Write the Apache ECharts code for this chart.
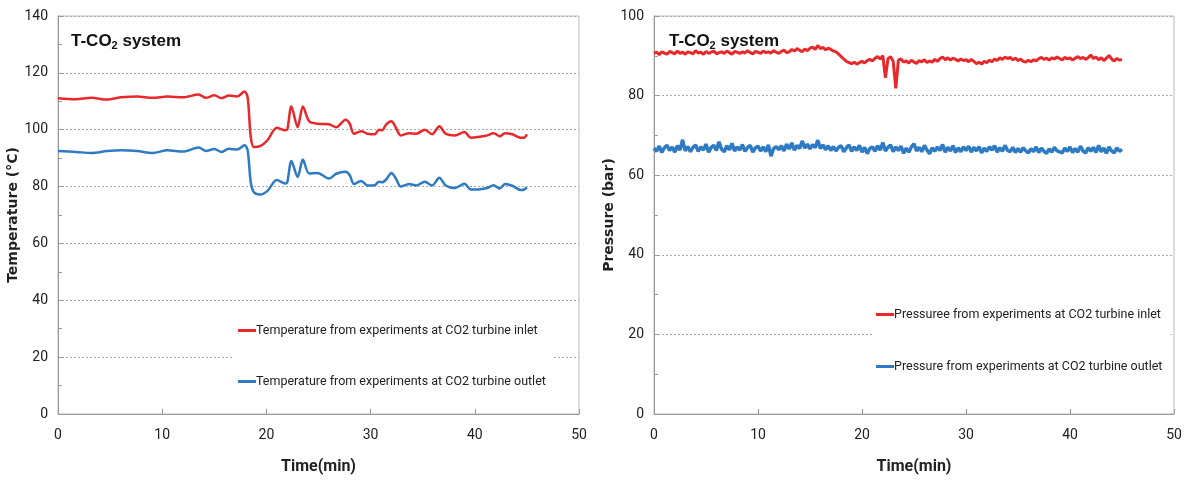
<!DOCTYPE html>
<html>
<head>
<meta charset="utf-8">
<script src="https://cdn.jsdelivr.net/npm/echarts@6/dist/echarts.min.js"></script>
<style>
  html, body { margin: 0; padding: 0; background: #fff; }
  #chart { width: 1187px; height: 480px; }
</style>
</head>
<body>
<div id="chart"></div>
<script>
// temperature readings (min, °C)
const tempTime = [0, 1.7, 3.2, 4.7, 6.1, 7.6, 9.1, 10.5, 12.0, 13.5, 14.2, 15.0, 15.7, 16.4, 17.2, 17.9, 18.2, 18.5, 18.8, 19.4,
  20.1, 21.0, 21.8, 22.0, 22.4, 23.0, 23.5, 24.1, 24.9, 26.0, 26.7, 27.6, 28.0, 28.4, 29.1, 29.7, 30.4, 30.8, 31.1, 31.5,
  32.0, 32.4, 32.9, 33.7, 34.4, 35.2, 35.9, 36.6, 37.2, 38.1, 39.0, 39.6, 40.3, 41.2, 41.8, 42.4, 42.9, 43.6, 44.4, 44.7, 45.0];
const tempInlet = [111.1, 110.7, 111.2, 110.6, 111.4, 111.7, 111.2, 111.7, 111.4, 112.4, 111.2, 112.1, 111.1, 112.0, 111.7, 113.4, 111.4, 97.4, 93.9, 94.2,
  96.3, 100.7, 99.8, 100.0, 108.2, 100.9, 108.2, 103.0, 102.1, 101.9, 100.9, 103.5, 102.1, 98.6, 99.5, 98.6, 98.4, 100.0, 99.8, 101.9,
  103.0, 100.9, 98.0, 98.8, 98.6, 100.0, 98.4, 101.2, 98.6, 98.0, 99.2, 97.2, 97.4, 98.0, 98.8, 97.7, 98.8, 98.4, 97.2, 97.2, 98.4];
const tempOutlet = [92.5, 92.2, 91.8, 92.5, 92.8, 92.5, 91.8, 92.8, 92.3, 93.7, 92.5, 93.2, 92.2, 93.3, 93.0, 94.5, 92.8, 81.5, 78.0, 77.2,
  78.5, 82.3, 81.1, 81.5, 89.0, 83.4, 89.5, 84.6, 84.8, 82.8, 84.5, 85.2, 84.0, 80.9, 82.0, 80.4, 80.5, 81.7, 81.5, 82.5,
  84.8, 83.0, 80.0, 80.9, 80.4, 81.7, 80.4, 83.1, 80.4, 79.5, 81.0, 79.0, 79.0, 79.5, 80.5, 79.3, 80.9, 80.3, 78.8, 78.9, 79.7];

// pressure readings, one every 0.25 min from 0 to 45 (bar)
const pressStep = 0.25;
const pressInlet = [
  90.6, 90.9, 90.3, 91.0, 90.7, 90.4, 91.1, 90.8, 90.5, 91.2,
  90.6, 90.9, 90.4, 91.0, 90.8, 90.5, 91.3, 90.7, 90.9, 90.4,
  91.1, 90.6, 90.9, 91.2, 90.5, 90.8, 91.0, 90.6, 91.2, 90.8,
  90.4, 91.1, 90.9, 90.6, 91.0, 90.7, 91.3, 90.8, 90.5, 91.1,
  90.9, 90.6, 91.2, 90.8, 91.0, 90.7, 91.3, 90.9, 90.6, 91.1,
  91.4, 90.8, 91.0,
  91.6, 91.2, 91.8, 91.4, 91.0, 91.7, 91.3, 91.9, 92.2, 91.6, 92.6, 91.8, 92.1, 91.5, 91.9, 91.6, 91.2,
  91.0, 90.4, 89.8, 89.2, 88.6, 88.3, 88.0, 88.4, 87.9, 88.3, 88.6, 88.2, 88.8, 89.1, 88.7, 89.4, 89.8,
  89.2, 90.0, 84.5, 89.3, 89.8, 88.6, 81.8, 88.9, 89.2, 88.4,
  88.7, 88.2, 88.9, 88.4, 88.1, 88.8, 88.5, 89.0, 88.3, 88.7, 88.4, 89.1,
  88.6, 89.3, 89.7, 89.0, 89.5, 88.9, 89.4, 89.1, 88.7, 89.2, 88.8, 89.0,
  88.5, 89.1, 88.6, 88.0, 88.4, 87.9, 88.6, 88.3, 88.9, 88.5, 89.2, 88.8,
  89.5, 89.1, 89.7, 89.3, 89.6, 89.0, 89.4, 88.8, 89.2, 88.6, 88.4, 88.9,
  88.5, 89.0, 88.7, 89.3, 89.6, 89.1, 89.4, 88.9, 89.5, 89.2, 89.7, 89.3,
  89.0, 89.6, 89.2, 89.5, 88.9, 89.4, 89.8, 89.3, 89.6, 89.1, 89.5, 90.2,
  89.3, 89.7, 89.0, 89.5, 88.8, 89.4, 90.1, 89.2, 88.7, 89.3, 88.9, 89.1
];
const pressOutlet = [
  66.8, 66.0, 67.3, 65.7, 66.9, 67.5, 66.2, 67.1, 65.8, 67.4, 66.3, 68.9,
  66.1, 67.2, 65.9, 67.0, 67.6, 66.0, 67.1, 66.3, 67.8, 65.8, 67.0, 67.5,
  66.2, 68.4, 66.5, 65.9, 67.4, 66.4, 68.0, 66.1, 67.1, 66.3, 67.7, 66.0,
  67.0, 67.5, 65.8, 66.9, 67.3, 66.1, 67.1, 65.9, 67.6, 64.8, 66.7, 67.2,
  66.4, 67.4, 66.1, 67.8, 66.6, 68.1, 66.3, 67.5, 66.7, 68.6, 66.8, 67.8,
  66.6, 67.7, 66.9, 68.8, 66.7, 67.6, 66.4, 67.4, 66.2, 67.2, 66.1, 67.0,
  67.4, 65.9, 66.9, 67.6, 66.0, 67.1, 66.2, 67.5, 65.8, 67.0, 65.4, 66.7,
  67.1, 66.0, 67.4, 66.3, 68.2, 66.1, 67.0, 67.6, 65.9, 67.1, 66.2, 67.3,
  65.5, 66.8, 65.8, 67.1, 67.9, 66.1, 67.0, 65.9, 67.5, 66.3, 65.4, 66.9,
  66.0, 67.1, 66.2, 67.7, 65.8, 67.0, 66.1, 67.4, 65.7, 66.9, 65.9, 67.1,
  66.2, 67.3, 65.8, 67.0, 66.1, 67.2, 65.6, 66.8, 66.0, 67.1, 66.3, 67.4,
  65.8, 66.9, 66.0, 67.5, 66.2, 65.9, 67.0, 65.7, 66.7, 65.8, 66.9, 66.1,
  65.6, 66.7, 65.9, 67.1, 65.7, 66.8, 66.0, 65.5, 66.6, 65.8, 67.0, 66.1,
  65.9, 65.6, 66.8, 66.0, 67.1, 65.7, 66.7, 65.8, 67.3, 66.1, 65.6, 66.9,
  66.0, 67.0, 65.7, 67.5, 65.9, 66.8, 65.5, 67.1, 66.1, 65.6, 66.9, 66.0,
  66.5
];

const RED = "#e8282b";
const BLUE = "#2e7bc4";
const NARROW = "'Roboto', 'Liberation Sans', sans-serif";

function pairs(xs, ys) {
  return ys.map((v, i) => [xs[i], v]);
}
function stepPairs(ys) {
  return ys.map((v, i) => [i * pressStep, v]);
}

function xAxisOf(gridIndex) {
  return {
    type: "value",
    gridIndex,
    min: 0,
    max: 50,
    interval: 10,
    name: "Time(min)",
    nameLocation: "middle",
    nameGap: 45,
    nameTextStyle: { fontFamily: NARROW, fontWeight: "bold", fontSize: 16, color: "#222" },
    axisLine: { lineStyle: { color: "#999" } },
    axisTick: { show: true, inside: true, length: 5, lineStyle: { color: "#999" } },
    axisLabel: { fontFamily: NARROW, fontSize: 14, color: "#222", margin: 14 },
    splitLine: { show: false },
  };
}

function yAxisOf(gridIndex, max, name) {
  return {
    type: "value",
    gridIndex,
    min: 0,
    max,
    interval: 20,
    name,
    nameLocation: "middle",
    nameGap: 38,
    nameTextStyle: { fontFamily: "'DejaVu Sans', sans-serif", fontWeight: "bold", fontSize: 14, color: "#222" },
    axisLine: { show: true, lineStyle: { color: "#999" } },
    axisTick: { show: true, inside: true, length: 5, lineStyle: { color: "#999" } },
    minorTick: { show: true, splitNumber: 2, length: 4, lineStyle: { color: "#999" } },
    axisLabel: { fontFamily: NARROW, fontSize: 14, color: "#222", margin: 10 },
    splitLine: { show: true, lineStyle: { color: "#aaa", type: [2, 2], width: 1 } },
  };
}

function titleOf(left) {
  return {
    left,
    top: 26,
    text: "{a|T-CO}{b|2}{a| system}",
    textStyle: {
      rich: {
        a: { fontFamily: "'Liberation Sans', Arial, sans-serif", fontWeight: "bold", fontSize: 17, color: "#111" },
        b: { fontFamily: "'Liberation Sans', Arial, sans-serif", fontWeight: "bold", fontSize: 11, color: "#111", padding: [9, 0, 0, 0] },
      },
    },
  };
}

function legendOf(left, top, gap, names) {
  return {
    orient: "vertical",
    left,
    top,
    itemGap: gap,
    itemWidth: 18,
    itemHeight: 3,
    icon: "rect",
    backgroundColor: "#fff",
    padding: [6, 8, 6, 4],
    data: names,
    textStyle: { fontFamily: NARROW, fontSize: 12.5, color: "#222", padding: [0, 0, 0, -5] },
  };
}

const names = [
  "Temperature from experiments at CO2 turbine inlet",
  "Temperature from experiments at CO2 turbine outlet",
  "Pressuree from experiments at CO2 turbine inlet",
  "Pressure from experiments at CO2 turbine outlet",
];

const chart = echarts.init(document.getElementById("chart"), null, { renderer: "canvas" });
chart.setOption({
  animation: false,
  backgroundColor: "#fff",
  title: [titleOf(66), titleOf(664)],
  legend: [legendOf(234, 318, 38, [names[0], names[1]]), legendOf(872, 302, 39, [names[2], names[3]])],
  grid: [
    { left: 58, top: 16, width: 521, height: 400, show: true, borderColor: "#bbb", borderWidth: 1 },
    { left: 654, top: 16, width: 520, height: 400, show: true, borderColor: "#bbb", borderWidth: 1 },
  ],
  xAxis: [xAxisOf(0), xAxisOf(1)],
  yAxis: [yAxisOf(0, 140, "Temperature (°C)"), yAxisOf(1, 100, "Pressure (bar)")],
  series: [
    {
      name: names[0], type: "line", xAxisIndex: 0, yAxisIndex: 0, smooth: 0.3, showSymbol: false,
      lineStyle: { width: 2.5, color: RED }, itemStyle: { color: RED }, data: pairs(tempTime, tempInlet),
    },
    {
      name: names[1], type: "line", xAxisIndex: 0, yAxisIndex: 0, smooth: 0.3, showSymbol: false,
      lineStyle: { width: 2.5, color: BLUE }, itemStyle: { color: BLUE }, data: pairs(tempTime, tempOutlet),
    },
    {
      name: names[2], type: "line", xAxisIndex: 1, yAxisIndex: 1, showSymbol: false,
      lineStyle: { width: 3, color: RED }, itemStyle: { color: RED }, data: stepPairs(pressInlet),
    },
    {
      name: names[3], type: "line", xAxisIndex: 1, yAxisIndex: 1, showSymbol: false,
      lineStyle: { width: 3.5, color: BLUE }, itemStyle: { color: BLUE }, data: stepPairs(pressOutlet),
    },
  ],
});
</script>
</body>
</html>
